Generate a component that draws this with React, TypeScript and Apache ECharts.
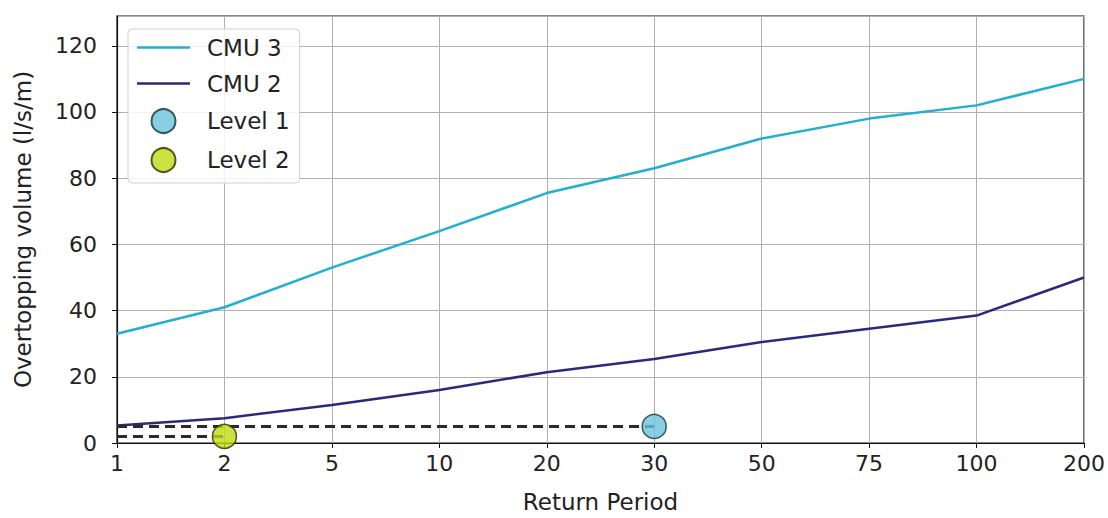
import React, { useEffect, useRef } from "react";
import * as echarts from "echarts";

const categories = ["1", "2", "5", "10", "20", "30", "50", "75", "100", "200"];
const cmu3 = [33, 41, 53, 64, 75.5, 83, 92, 98, 102, 110];
const cmu2 = [5.3, 7.5, 11.5, 16, 21.4, 25.4, 30.5, 34.5, 38.5, 50];
const level1 = { x: "30", y: 5 };
const level2 = { x: "2", y: 2 };

const LINE_ICON = "path://M0,0 L53,0 L53,2.5 L0,2.5 Z";

export default function App() {
  const ref = useRef<HTMLDivElement>(null);
  useEffect(() => {
    if (!ref.current) return;
    const chart = echarts.init(ref.current, undefined, { renderer: "svg" });
    const font = "DejaVu Sans";
    const i1 = categories.indexOf(level1.x);
    const i2 = categories.indexOf(level2.x);
    const dash1 = categories.map((_, i) => (i <= i1 ? level1.y : null));
    const dash2 = categories.map((_, i) => (i <= i2 ? level2.y : null));
    const c3 = "#22afd0";
    const c2 = "#2a2a7c";
    chart.setOption({
      animation: false,
      textStyle: { fontFamily: font },
      grid: {
        left: 117,
        right: 23,
        top: 16,
        bottom: 72,
        show: true,
        borderColor: "#111",
        borderWidth: 1.2,
      },
      legend: {
        orient: "vertical",
        left: 128,
        top: 29,
        itemWidth: 53,
        itemHeight: 24,
        itemGap: 13,
        padding: [7, 10, 10, 9],
        backgroundColor: "rgba(255,255,255,0.85)",
        borderColor: "#cfcfcf",
        borderWidth: 1,
        borderRadius: 4,
        textStyle: { fontSize: 23, color: "#222", fontFamily: font, padding: [0, 0, 0, 12] },
        data: [
          { name: "CMU 3", icon: LINE_ICON, itemStyle: { color: c3, borderWidth: 0 } },
          { name: "CMU 2", icon: LINE_ICON, itemStyle: { color: c2, borderWidth: 0 } },
          { name: "Level 1", icon: "circle" },
          { name: "Level 2", icon: "circle" },
        ],
      },
      xAxis: {
        type: "category",
        data: categories,
        boundaryGap: false,
        name: "Return Period",
        nameLocation: "middle",
        nameGap: 47,
        nameTextStyle: { fontSize: 23, color: "#222" },
        axisLine: { lineStyle: { color: "#111", width: 1.2 } },
        axisTick: { show: true, alignWithLabel: true, length: 5, lineStyle: { color: "#111" } },
        axisLabel: { fontSize: 22, color: "#222", margin: 9 },
        splitLine: { show: true, lineStyle: { color: "#b0b0b0", width: 1 } },
      },
      yAxis: {
        type: "value",
        min: 0,
        max: 129,
        interval: 20,
        name: "Overtopping volume (l/s/m)",
        nameLocation: "middle",
        nameGap: 83,
        nameTextStyle: { fontSize: 23, color: "#222" },
        axisLine: { show: true, lineStyle: { color: "#111", width: 1.2 } },
        axisTick: { show: true, length: 5, lineStyle: { color: "#111" } },
        axisLabel: { fontSize: 22, color: "#222", margin: 20, showMaxLabel: false },
        splitLine: { show: true, lineStyle: { color: "#b0b0b0", width: 1 } },
      },
      series: [
        {
          name: "CMU 3",
          type: "line",
          data: cmu3,
          symbol: "none",
          lineStyle: { color: c3, width: 2.5 },
          itemStyle: { color: c3 },
        },
        {
          name: "CMU 2",
          type: "line",
          data: cmu2,
          symbol: "none",
          lineStyle: { color: c2, width: 2.5 },
          itemStyle: { color: c2 },
        },
        {
          name: "dash1",
          type: "line",
          data: dash1,
          symbol: "none",
          lineStyle: { color: "#2a2a2a", width: 3, type: [10, 6] },
        },
        {
          name: "dash2",
          type: "line",
          data: dash2,
          symbol: "none",
          lineStyle: { color: "#2a2a2a", width: 3, type: [10, 6] },
        },
        {
          name: "Level 1",
          type: "scatter",
          data: [[level1.x, level1.y]],
          symbol: "circle",
          symbolSize: 24,
          z: 5,
          itemStyle: { color: "#6cc3dc", borderColor: "#153535", borderWidth: 1.5 },
        },
        {
          name: "Level 2",
          type: "scatter",
          data: [[level2.x, level2.y]],
          symbol: "circle",
          symbolSize: 24,
          z: 5,
          itemStyle: { color: "#bddc10", borderColor: "#2a3300", borderWidth: 1.5 },
        },
      ],
    });
    return () => chart.dispose();
  }, []);
  return <div ref={ref} style={{ width: 1108, height: 518, position: "absolute", left: 0, top: 0 }} />;
}
